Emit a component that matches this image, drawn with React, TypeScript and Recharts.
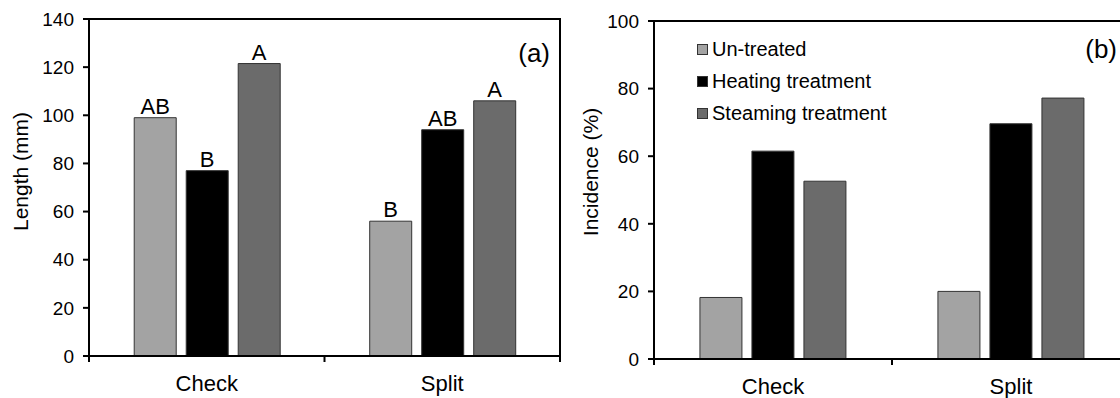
import React from 'react';
import { BarChart, Bar, XAxis, YAxis, ReferenceArea, LabelList, Legend } from 'recharts';

const categories = ['Check', 'Split'];
const seriesNames = ['Un-treated', 'Heating treatment', 'Steaming treatment'];
const seriesColors = ['#a3a3a3', '#000000', '#6b6b6b'];

// panel (a) length, mm
const lengthUntreated = [99, 56];
const lengthHeating = [77, 94];
const lengthSteaming = [121.5, 106];
const lengthLettersUntreated = ['AB', 'B'];
const lengthLettersHeating = ['B', 'AB'];
const lengthLettersSteaming = ['A', 'A'];
const lengthTicks = [0, 20, 40, 60, 80, 100, 120, 140];

// panel (b) incidence, %
const incidenceUntreated = [18.2, 20];
const incidenceHeating = [61.5, 69.6];
const incidenceSteaming = [52.6, 77.2];
const incidenceTicks = [0, 20, 40, 60, 80, 100];

const FONT = '"Liberation Sans", Arial, sans-serif';

const lengthData = categories.map((cat, i) => ({
  cat,
  untreated: lengthUntreated[i],
  heating: lengthHeating[i],
  steaming: lengthSteaming[i],
  sigUntreated: lengthLettersUntreated[i],
  sigHeating: lengthLettersHeating[i],
  sigSteaming: lengthLettersSteaming[i],
}));

const incidenceData = categories.map((cat, i) => ({
  cat,
  untreated: incidenceUntreated[i],
  heating: incidenceHeating[i],
  steaming: incidenceSteaming[i],
}));

const CategoryTick = (props: any) => {
  const { x, y, payload, index, visibleTicksCount, width } = props;
  const half = payload.offset || (width ? width / visibleTicksCount / 2 : 0);
  return (
    <g>
      {index === 0 && <line x1={x - half} x2={x - half} y1={y} y2={y + 6} stroke="#000" strokeWidth={2} />}
      <line x1={x + half} x2={x + half} y1={y} y2={y + 6} stroke="#000" strokeWidth={2} />
      <text x={x} y={y + 27} textAnchor="middle" dominantBaseline="central" fontSize={22} fill="#000" fontFamily={FONT}>
        {payload.value}
      </text>
    </g>
  );
};

const axisTitle = (caption: string, dx: number, dy: number) => (p: any) => {
  const vb = p.viewBox;
  const cx = vb.x + dx;
  const cy = vb.y + vb.height / 2 + dy;
  return (
    <text x={cx} y={cy} transform={`rotate(-90, ${cx}, ${cy})`} textAnchor="middle" dominantBaseline="central" fontSize={21} fill="#000" fontFamily={FONT}>
      {caption}
    </text>
  );
};

const cornerTag = (caption: string, dx: number, dy: number) => (p: any) => {
  const vb = p.viewBox;
  return (
    <text x={vb.x + vb.width - dx} y={vb.y + dy} textAnchor="end" fontSize={26} fill="#000" fontFamily={FONT}>
      {caption}
    </text>
  );
};

// legend keeps the series order of the figure
const LegendBox = () => (
  <div style={{ fontFamily: FONT, fontSize: 20, color: '#000' }}>
    {seriesNames.map((name, i) => (
      <div key={name} style={{ display: 'flex', alignItems: 'center', height: 32 }}>
        <span style={{ display: 'inline-block', width: 9, height: 9, background: seriesColors[i], border: '1px solid #333', marginRight: 4 }} />
        <span>{name}</span>
      </div>
    ))}
  </div>
);

const barKeys = ['untreated', 'heating', 'steaming'];
const sigKeys = ['sigUntreated', 'sigHeating', 'sigSteaming'];

export default function App() {
  return (
    <div style={{ position: 'absolute', left: 0, top: 0, width: 1120, height: 398, overflow: 'hidden', background: '#fff', fontFamily: FONT }}>
      <div style={{ position: 'absolute', left: 0, top: 0 }}>
        <BarChart width={566} height={398} data={lengthData} margin={{ top: 19, right: 6, left: 0, bottom: 0 }} barCategoryGap="19.2%" barGap={10}>
          <XAxis dataKey="cat" height={42} axisLine={{ stroke: '#000', strokeWidth: 2 }} tickLine={false} tickSize={0} tickMargin={0} tick={<CategoryTick />} interval={0} />
          <YAxis
            width={89}
            domain={[0, 140]}
            ticks={lengthTicks}
            interval={0}
            axisLine={{ stroke: '#000', strokeWidth: 2 }}
            tickLine={{ stroke: '#000', strokeWidth: 2 }}
            tickSize={6}
            tickMargin={9}
            tick={{ fill: '#000', fontSize: 19, fontFamily: FONT }}
            label={axisTitle('Length (mm)', 20, -16)}
          />
          <ReferenceArea y1={0} y2={140} fill="none" stroke="#000" strokeWidth={2} ifOverflow="visible" label={cornerTag('(a)', 10, 43)} />
          {barKeys.map((k, i) => (
            <Bar key={k} dataKey={k} name={seriesNames[i]} fill={seriesColors[i]} stroke="#333" strokeWidth={1} isAnimationActive={false}>
              <LabelList dataKey={sigKeys[i]} position="top" offset={4} fill="#000" fontSize={22} fontFamily={FONT} />
            </Bar>
          ))}
        </BarChart>
      </div>
      <div style={{ position: 'absolute', left: 560, top: 0 }}>
        <BarChart width={576} height={398} data={incidenceData} margin={{ top: 21, right: 6, left: 0, bottom: 0 }} barCategoryGap="19.3%" barGap={10}>
          <XAxis dataKey="cat" height={39} axisLine={{ stroke: '#000', strokeWidth: 2 }} tickLine={false} tickSize={0} tickMargin={0} tick={<CategoryTick />} interval={0} />
          <YAxis
            width={94}
            domain={[0, 100]}
            ticks={incidenceTicks}
            interval={0}
            axisLine={{ stroke: '#000', strokeWidth: 2 }}
            tickLine={{ stroke: '#000', strokeWidth: 2 }}
            tickSize={6}
            tickMargin={9}
            tick={{ fill: '#000', fontSize: 19, fontFamily: FONT }}
            label={axisTitle('Incidence (%)', 30, -18)}
          />
          <ReferenceArea y1={0} y2={100} fill="none" stroke="#000" strokeWidth={2} ifOverflow="visible" label={cornerTag('(b)', 13, 37)} />
          <Legend layout="vertical" align="center" verticalAlign="middle" wrapperStyle={{ top: 33, left: 137, width: 260 }} content={<LegendBox />} />
          {barKeys.map((k, i) => (
            <Bar key={k} dataKey={k} name={seriesNames[i]} fill={seriesColors[i]} stroke="#333" strokeWidth={1} isAnimationActive={false} />
          ))}
        </BarChart>
      </div>
    </div>
  );
}
